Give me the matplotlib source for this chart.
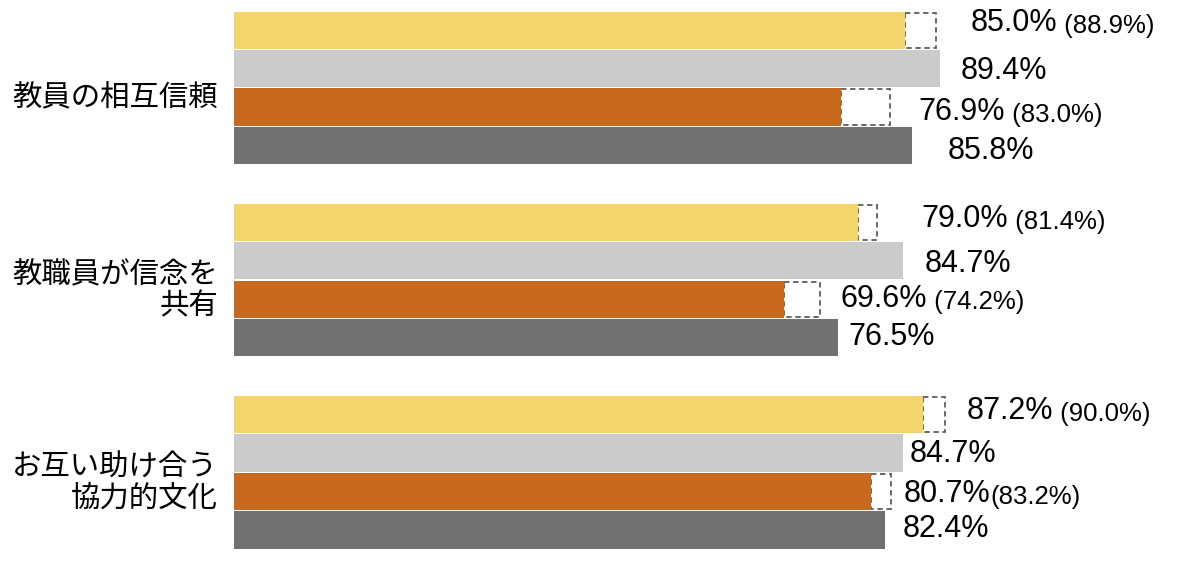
import matplotlib.pyplot as plt

plt.rcParams['font.family'] = ['Liberation Sans', 'Noto Sans CJK JP', 'DejaVu Sans']

# group labels (top to bottom)
categories = ['教員の相互信頼', '教職員が信念を\n共有', 'お互い助け合う\n協力的文化']

# four bars per group, top to bottom
yellow = [85.0, 79.0, 87.2]
light_gray = [89.4, 84.7, 84.7]
orange = [76.9, 69.6, 80.7]
dark_gray = [85.8, 76.5, 82.4]
series = [yellow, light_gray, orange, dark_gray]

# earlier values shown as dashed boxes and in brackets (None = not shown)
yellow_prev = [88.9, 81.4, 90.0]
orange_prev = [83.0, 74.2, 83.2]
prev = [yellow_prev, None, orange_prev, None]
prev_sep = [[' ', ' '], [' ', ' '], [' ', '']]

COLORS = ['#F3D66B', '#CBCBCB', '#C76A1F', '#717171']
DASH_COLOR = '#5E5E5E'
PX = 72 / 100  # points per pixel at dpi 100

# label nudges in pixels (right, down) per group / bar
label_nudge = [
    [(34, -11), (20, -1), (29, 1), (36, 2)],
    [(44, -7), (22, 0), (20, -4), (10, -4)],
    [(22, -7), (7, -2), (12, -1), (18, -4)],
]

fig = plt.figure(figsize=(12, 5.61), dpi=100)
ax = fig.add_axes([0.195, 0, 0.805, 1])
ax.set_xlim(0, 122.3)
ax.set_ylim(13.81, -0.786)
ax.set_axis_off()

for g, cat in enumerate(categories):
    base = g * 5
    for i, vals in enumerate(series):
        y = base + i
        v = vals[g]
        end = v
        p = prev[i][g] if prev[i] is not None else None
        if p is not None:
            ax.barh(y, p - v, left=v, height=0.92, fill=False, edgecolor=DASH_COLOR,
                    linestyle=(0, (3, 2)), linewidth=1.3, zorder=1)
            end = p
        ax.barh(y, v, height=0.97, color=COLORS[i], zorder=2)
        dx, dy = label_nudge[g][i]
        t = ax.annotate(f'{v:.1f}%', xy=(end, y), xytext=(dx * PX, -dy * PX),
                        textcoords='offset points', ha='left', va='center_baseline',
                        fontsize=22, annotation_clip=False)
        if p is not None:
            sep = prev_sep[g][0 if i == 0 else 1]
            ax.annotate(f'{sep}({p:.1f}%)', xy=(1, 0), xycoords=t,
                        ha='left', va='bottom', fontsize=18.5, annotation_clip=False)
    ax.annotate(cat, xy=(0, base + 1.5), xycoords=('axes fraction', 'data'),
                xytext=(-16 * PX, -10 * PX), textcoords='offset points',
                ha='right', va='center', multialignment='right', fontsize=21.2,
                family=['Noto Sans CJK JP', 'DejaVu Sans'], linespacing=1.0,
                annotation_clip=False)

fig.savefig('out.png', dpi=100)
